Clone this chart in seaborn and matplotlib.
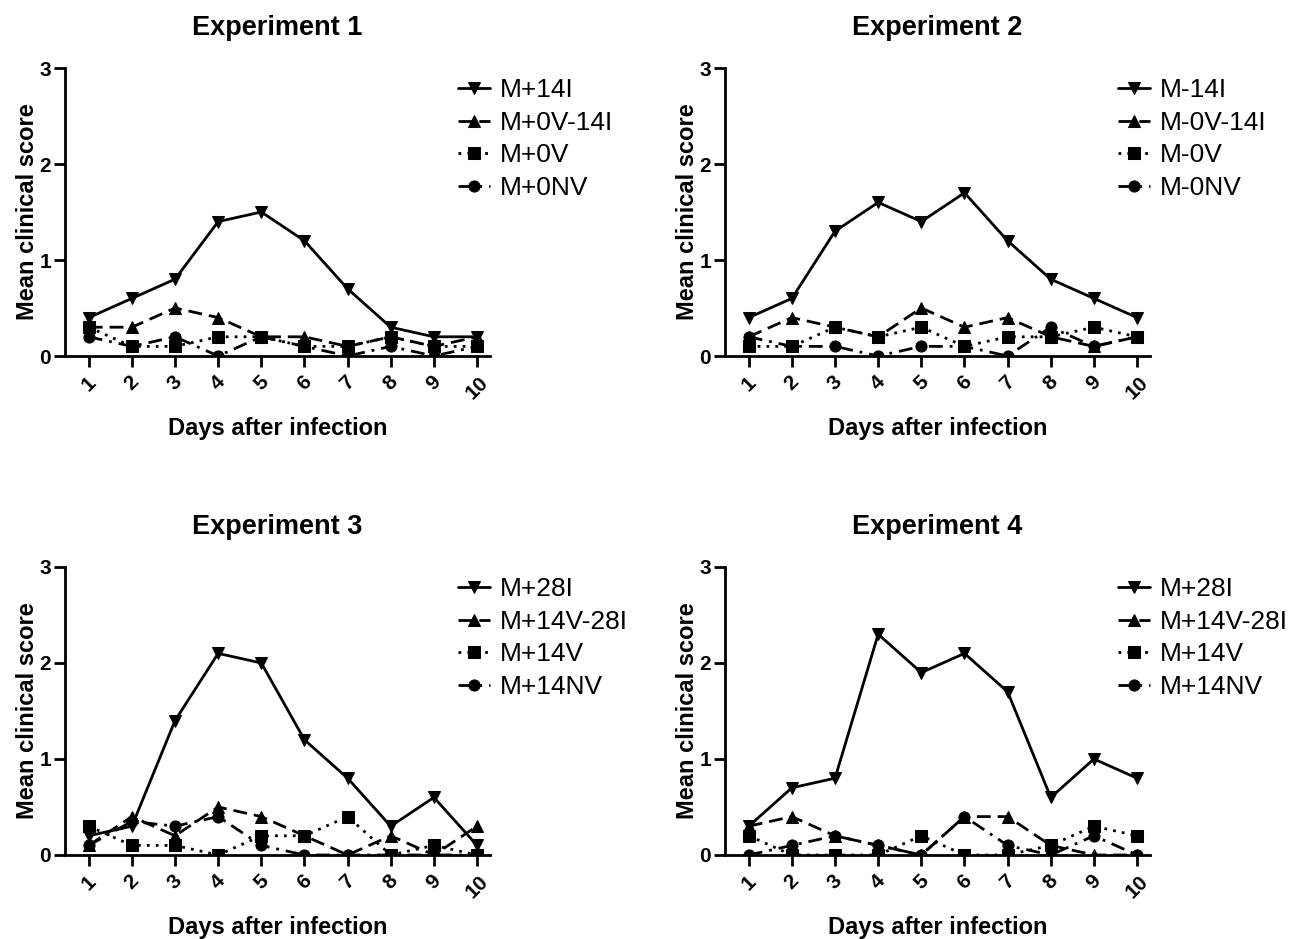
import matplotlib
matplotlib.use("Agg")
import matplotlib.pyplot as plt
import seaborn as sns
import pandas as pd

days = [1, 2, 3, 4, 5, 6, 7, 8, 9, 10]

exp1_labels = ["M+14I", "M+0V-14I", "M+0V", "M+0NV"]
exp1_a = [0.4, 0.6, 0.8, 1.4, 1.5, 1.2, 0.7, 0.3, 0.2, 0.2]
exp1_b = [0.3, 0.3, 0.5, 0.4, 0.2, 0.2, 0.1, 0.2, 0.1, 0.2]
exp1_c = [0.3, 0.1, 0.1, 0.2, 0.2, 0.1, 0.1, 0.2, 0.1, 0.1]
exp1_d = [0.2, 0.1, 0.2, 0.0, 0.2, 0.1, 0.0, 0.1, 0.0, 0.1]

exp2_labels = ["M-14I", "M-0V-14I", "M-0V", "M-0NV"]
exp2_a = [0.4, 0.6, 1.3, 1.6, 1.4, 1.7, 1.2, 0.8, 0.6, 0.4]
exp2_b = [0.2, 0.4, 0.3, 0.2, 0.5, 0.3, 0.4, 0.2, 0.1, 0.2]
exp2_c = [0.1, 0.1, 0.3, 0.2, 0.3, 0.1, 0.2, 0.2, 0.3, 0.2]
exp2_d = [0.2, 0.1, 0.1, 0.0, 0.1, 0.1, 0.0, 0.3, 0.1, 0.2]

exp3_labels = ["M+28I", "M+14V-28I", "M+14V", "M+14NV"]
exp3_a = [0.2, 0.3, 1.4, 2.1, 2.0, 1.2, 0.8, 0.3, 0.6, 0.1]
exp3_b = [0.1, 0.4, 0.2, 0.5, 0.4, 0.2, 0.0, 0.2, 0.0, 0.3]
exp3_c = [0.3, 0.1, 0.1, 0.0, 0.2, 0.2, 0.4, 0.0, 0.1, 0.0]
exp3_d = [0.1, 0.35, 0.3, 0.4, 0.1, 0.0, 0.0, 0.0, 0.0, 0.0]

exp4_labels = ["M+28I", "M+14V-28I", "M+14V", "M+14NV"]
exp4_a = [0.3, 0.7, 0.8, 2.3, 1.9, 2.1, 1.7, 0.6, 1.0, 0.8]
exp4_b = [0.3, 0.4, 0.2, 0.1, 0.0, 0.4, 0.4, 0.1, 0.0, 0.0]
exp4_c = [0.2, 0.0, 0.0, 0.0, 0.2, 0.0, 0.0, 0.1, 0.3, 0.2]
exp4_d = [0.0, 0.1, 0.2, 0.1, 0.0, 0.4, 0.1, 0.0, 0.2, 0.0]

titles = ["Experiment 1", "Experiment 2", "Experiment 3", "Experiment 4"]
experiments = [
    (exp1_labels, [exp1_a, exp1_b, exp1_c, exp1_d]),
    (exp2_labels, [exp2_a, exp2_b, exp2_c, exp2_d]),
    (exp3_labels, [exp3_a, exp3_b, exp3_c, exp3_d]),
    (exp4_labels, [exp4_a, exp4_b, exp4_c, exp4_d]),
]

sns.set_style("white")
plt.rcParams['font.family'] = ['Liberation Sans', 'DejaVu Sans']
plt.rcParams['text.color'] = 'black'
plt.rcParams['axes.labelcolor'] = 'black'
plt.rcParams['xtick.color'] = 'black'
plt.rcParams['ytick.color'] = 'black'

fig = plt.figure(figsize=(12.89, 9.39), dpi=100)
W, H = 1289, 939
boxes = [(65, 68, 490, 356), (725, 68, 1150, 356),
         (65, 567, 490, 855), (725, 567, 1150, 855)]

markers_list = ["v", "^", "s", "o"]
dashes_list = ["", (5, 2.5), (1, 2.2), (5, 2.5, 1, 2.5)]

for (labels, series), title, (x0, y0, x1, y1) in zip(experiments, titles, boxes):
    ax = fig.add_axes([x0 / W, 1 - y1 / H, (x1 - x0) / W, (y1 - y0) / H])
    rows = []
    for lab, vals in zip(labels, series):
        for d, v in zip(days, vals):
            rows.append({"Day": d, "Score": v, "Group": lab})
    df = pd.DataFrame(rows)
    sns.lineplot(data=df, x="Day", y="Score", hue="Group", style="Group",
                 hue_order=labels, style_order=labels,
                 palette={l: "black" for l in labels},
                 markers=dict(zip(labels, markers_list)),
                 dashes=dict(zip(labels, dashes_list)),
                 markersize=8, linewidth=2, markeredgecolor="black",
                 ax=ax)
    ax.set_xlim(0.45, 10.3)
    ax.set_ylim(0, 3)
    ax.set_yticks([0, 1, 2, 3])
    ax.set_xticks(days)
    ax.set_xticklabels([str(d) for d in days], rotation=45, ha="center",
                       rotation_mode="default", fontsize=15, fontweight="bold")
    for t in ax.get_yticklabels():
        t.set_fontsize(15)
        t.set_fontweight("bold")
    ax.tick_params(axis="x", direction="out", length=8, width=2, color="black",
                   bottom=True, pad=4)
    ax.tick_params(axis="y", direction="out", length=8, width=2, color="black",
                   left=True, pad=2)
    for s in ["top", "right"]:
        ax.spines[s].set_visible(False)
    for s in ["left", "bottom"]:
        ax.spines[s].set_linewidth(2)
        ax.spines[s].set_color("black")
    ax.set_xlabel("Days after infection", fontsize=17, fontweight="bold", labelpad=10)
    ax.set_ylabel("Mean clinical score", fontsize=17, fontweight="bold", labelpad=0)
    ax.set_title(title, fontsize=19.5, fontweight="bold", pad=24)
    ax.legend(loc="upper left", bbox_to_anchor=(0.925, 0.965), frameon=False,
              fontsize=19, handlelength=1.2, handletextpad=0.4,
              labelspacing=0.33, borderaxespad=0, borderpad=0)

fig.savefig("out.png", dpi=100)
